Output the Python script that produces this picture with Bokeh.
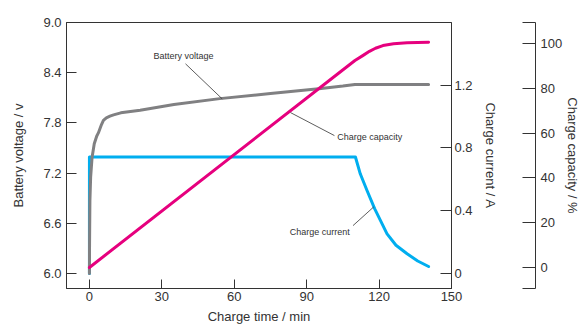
from bokeh.plotting import figure
from bokeh.models import Range1d, LinearAxis, FixedTicker
from bokeh.layouts import row
from bokeh.core.properties import value
from bokeh.embed import file_html
from bokeh.resources import INLINE

# ---- data ----
volt_t = [0, 0.05, 0.2, 0.5, 1.1, 2, 3, 3.7, 5, 5.8, 7, 8.5, 10, 13, 21, 35, 54, 75, 96, 105, 110, 140.5]
volt_v = [6.0, 6.35, 6.87, 7.15, 7.39, 7.55, 7.64, 7.68, 7.78, 7.83, 7.86, 7.88, 7.895, 7.92, 7.95, 8.02, 8.09, 8.15, 8.21, 8.24, 8.26, 8.26]

curr_t = [0, 0, 110.2, 112.2, 115.0, 118.2, 123.3, 127, 131.6, 136, 140.5]
curr_a = [0, 0.742, 0.742, 0.635, 0.529, 0.412, 0.253, 0.18, 0.126, 0.08, 0.045]

cap_t = [0, 104, 110, 113.4, 116, 118.5, 121.6, 126, 131.6, 136, 140.5]
cap_p = [0, 87.5, 92.5, 94.8, 96.6, 98, 99.2, 100, 100.4, 100.6, 100.7]

x_ticks = [0, 30, 60, 90, 120, 150]
v_ticks = [6.0, 6.6, 7.2, 7.8, 8.4, 9.0]
v_labels = ["6.0", "6.6", "7.2", "7.8", "8.4", "9.0"]
a_ticks = [0, 0.4, 0.8, 1.2]
a_labels = ["0", "0.4", "0.8", "1.2"]
c_ticks = [0, 20, 40, 60, 80, 100]
c_labels = ["0", "20", "40", "60", "80", "100"]

ann_text = ["Battery voltage", "Charge capacity", "Charge current"]

# ---- styling / layout ----
FONT = "Liberation Sans"
TXT = "#333333"
AX = "#333333"

CAP_RANGE = (-9.4, 109.5)

p = figure(width=510, height=326, x_range=Range1d(-9.5, 150), y_range=Range1d(5.82, 9.0),
           output_backend="svg", toolbar_location=None,
           min_border_left=66, min_border_top=22, min_border_bottom=38, min_border_right=59)
p.extra_y_ranges = {"cur": Range1d(-0.095, 1.598), "cap": Range1d(*CAP_RANGE)}
p.grid.visible = False
p.outline_line_color = AX
p.outline_line_width = 1
p.background_fill_color = "white"
p.border_fill_color = "white"


def style_axis(ax, tick_in):
    ax.axis_line_color = AX
    ax.major_tick_line_color = AX
    ax.minor_tick_line_color = None
    ax.major_tick_in = tick_in
    ax.major_tick_out = 0
    ax.major_label_text_font = FONT
    ax.major_label_text_font_size = "13px"
    ax.major_label_text_color = TXT
    ax.axis_label_text_font = FONT
    ax.axis_label_text_font_size = "13px"
    ax.axis_label_text_font_style = "normal"
    ax.axis_label_text_color = TXT


xa = p.xaxis[0]
xa.ticker = FixedTicker(ticks=x_ticks)
xa.axis_label = "Charge time / min"
style_axis(xa, 9)
xa.major_label_standoff = 3
xa.axis_label_standoff = 5

ya = p.yaxis[0]
ya.ticker = FixedTicker(ticks=v_ticks)
ya.major_label_overrides = {t: l for t, l in zip(v_ticks, v_labels)}
ya.axis_label = "Battery voltage / v"
style_axis(ya, 10)
ya.major_label_standoff = 5
ya.axis_label_standoff = 14

ra = LinearAxis(y_range_name="cur", ticker=FixedTicker(ticks=a_ticks),
                axis_label="Charge current / A")
ra.major_label_overrides = {t: l for t, l in zip(a_ticks, a_labels)}
style_axis(ra, 11)
ra.major_label_standoff = 3
ra.axis_label_standoff = 7
p.add_layout(ra, "right")

# ---- series ----
p.line(curr_t, curr_a, y_range_name="cur", line_color="#00aeef", line_width=3,
       line_join="round", line_cap="round")
p.line(volt_t, volt_v, line_color="#808082", line_width=3, line_join="round", line_cap="round")
p.line(cap_t, cap_p, y_range_name="cap", line_color="#e6007e", line_width=3,
       line_join="round", line_cap="round")

# ---- annotations (positions in axis coordinates) ----
ann_x = [26.5, 102.7, 83.0]
ann_y = [8.605, 7.628, 6.50]
p.text(x=ann_x, y=ann_y, text=ann_text, text_font=value(FONT), text_font_size="9px",
       text_align="left", text_baseline="middle", text_color=TXT)
p.segment(x0=[39.8, 83.3, 109.2], y0=[8.506, 7.923, 6.572],
          x1=[55.0, 101.5, 117.8], y1=[8.087, 7.648, 6.796],
          line_color=TXT, line_width=0.8)

# ---- separate strip carrying the detached capacity axis ----
p2 = figure(width=76, height=326, x_range=Range1d(0, 1), y_range=Range1d(*CAP_RANGE),
            output_backend="svg", toolbar_location=None,
            x_axis_location=None, y_axis_location=None,
            min_border_left=5, min_border_top=22, min_border_bottom=38, min_border_right=51)
p2.grid.visible = False
p2.outline_line_color = None
p2.background_fill_color = "white"
p2.border_fill_color = "white"

cap_ends = [-9.35, 109.45]
ca = LinearAxis(ticker=FixedTicker(ticks=c_ticks, minor_ticks=cap_ends),
                axis_label="Charge capacity / %")
ca.major_label_overrides = {t: l for t, l in zip(c_ticks, c_labels)}
style_axis(ca, 13)
ca.minor_tick_line_color = AX
ca.minor_tick_in = 13
ca.minor_tick_out = 0
ca.major_label_standoff = 5
ca.axis_label_standoff = 0
p2.add_layout(ca, "right")

layout = row(p, p2)
open("out.html", "w").write(file_html(layout, INLINE))
